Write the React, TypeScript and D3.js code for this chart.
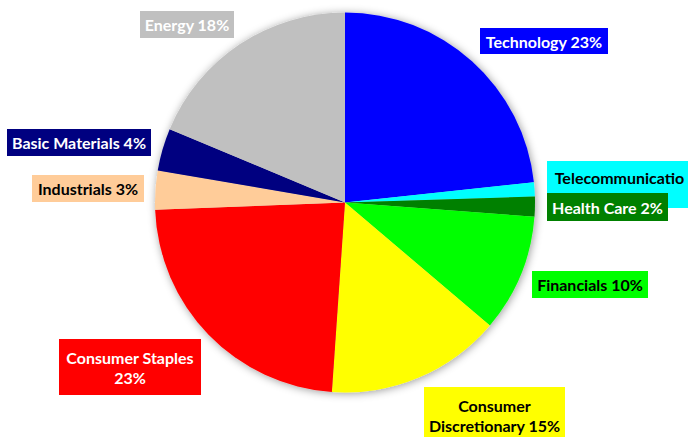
import React from "react";
import * as d3 from "d3";

const sectors = [
  "Technology",
  "Telecommunications",
  "Health Care",
  "Financials",
  "Consumer Discretionary",
  "Consumer Staples",
  "Industrials",
  "Basic Materials",
  "Energy",
];
const shares = [23.3, 1.2, 1.7, 10.0, 14.9, 23.3, 3.3, 3.6, 18.7];
const labelLines = [
  ["Technology 23%"],
  ["Telecommunicatio", "ns 1%"],
  ["Health Care 2%"],
  ["Financials 10%"],
  ["Consumer", "Discretionary 15%"],
  ["Consumer Staples", "23%"],
  ["Industrials 3%"],
  ["Basic Materials 4%"],
  ["Energy 18%"],
];

const fills = ["#0000FF", "#00FFFF", "#008000", "#00FF00", "#FFFF00", "#FF0000", "#FFCC99", "#000080", "#C0C0C0"];
const textFills = ["#fff", "#000", "#fff", "#000", "#000", "#fff", "#000", "#fff", "#fff"];
// label box layout: x0, y0, x1, y1
const boxes = [
  [480, 28, 608, 54],
  [547, 161, 692, 208],
  [547, 193, 668, 221],
  [532, 271, 648, 298],
  [424, 387, 565, 440],
  [59, 339, 201, 395],
  [32, 175, 144, 202],
  [7, 129, 151, 156],
  [140, 11, 234, 38],
];

const W = 688;
const H = 437;
const cx = 345;
const cy = 202.5;
const R = 190;
const FONT = "Lato, 'Open Sans', sans-serif";
const FS = 16;
const LH = 20;

export default function App() {
  const pie = d3.pie<number>().sort(null).value((d) => d);
  const arcs = pie(shares);
  const arc = d3.arc<d3.PieArcDatum<number>>().innerRadius(0).outerRadius(R);
  return (
    <svg width={W} height={H} style={{ position: "absolute", left: 0, top: 0 }} fontFamily={FONT}>
      <defs>
        <filter id="sh" x="-20%" y="-20%" width="140%" height="140%">
          <feDropShadow dx="1" dy="1" stdDeviation="4" floodColor="#000" floodOpacity="0.4" />
        </filter>
        <clipPath id="telclip">
          <rect x={547} y={161} width={145} height={32} />
        </clipPath>
      </defs>
      <rect width={W} height={H} fill="#fff" />
      <g transform={`translate(${cx},${cy})`} filter="url(#sh)">
        {arcs.map((a, i) => (
          <path key={sectors[i]} d={arc(a) || ""} fill={fills[i]} />
        ))}
      </g>
      {sectors.map((s, i) => {
        const [x0, y0, x1, y1] = boxes[i];
        const lines = labelLines[i];
        const mx = (x0 + x1) / 2;
        const top = i === 4 ? 405 : i === 5 ? 357 : i === 1 ? 177 : (y0 + y1) / 2;
        return (
          <g key={s}>
            <rect x={x0} y={y0} width={x1 - x0} height={y1 - y0} fill={fills[i]} />
            <g clipPath={i === 1 ? "url(#telclip)" : undefined}>
              {lines.map((t, k) => (
                <text
                  key={k}
                  x={mx}
                  y={top + k * LH}
                  textAnchor="middle"
                  dominantBaseline="central"
                  fontWeight={700}
                  fontSize={FS}
                  fill={textFills[i]}
                >
                  {t}
                </text>
              ))}
            </g>
          </g>
        );
      })}
    </svg>
  );
}
